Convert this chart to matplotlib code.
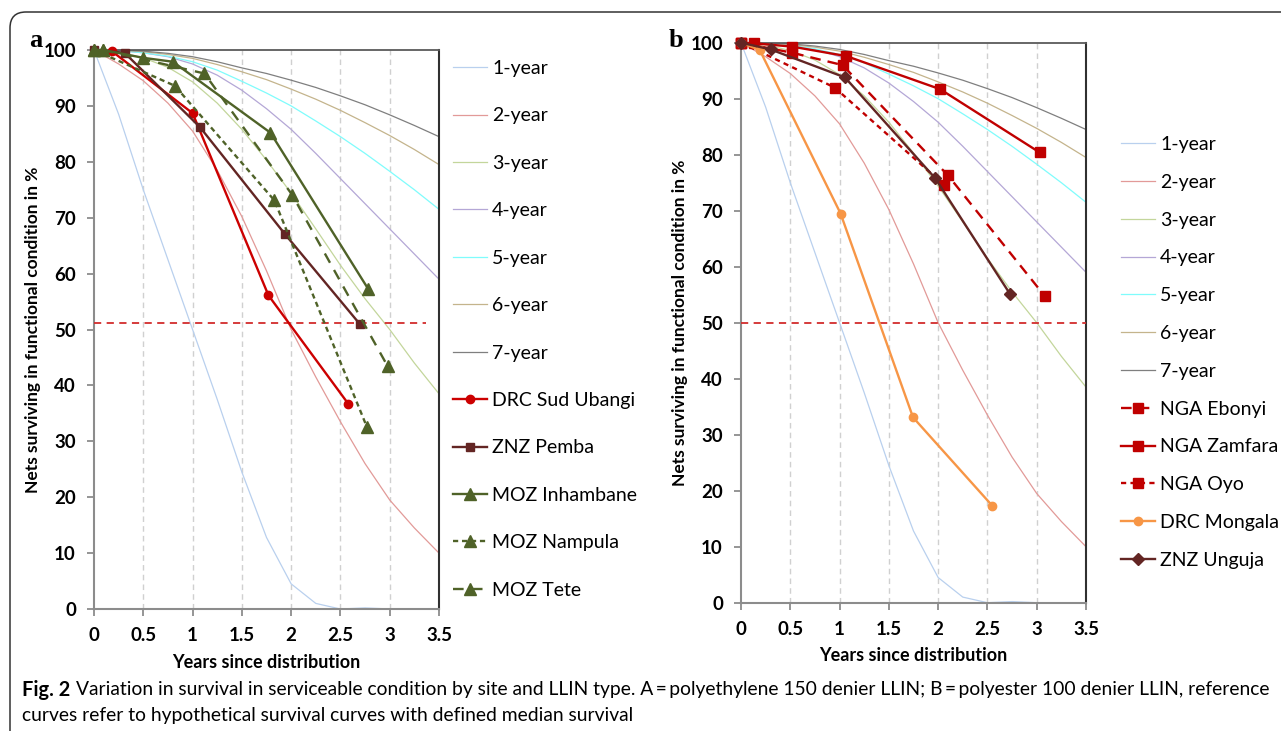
import matplotlib
matplotlib.use("Agg")
import matplotlib.pyplot as plt
from matplotlib.patches import FancyBboxPatch
import numpy as np

plt.rcParams['font.family'] = ['Lato', 'DejaVu Sans']

# reference curves (hypothetical survival with defined median), read every 0.25 yr
ref_t = [0, 0.25, 0.5, 0.75, 1.0, 1.25, 1.5, 1.75, 2.0, 2.25, 2.5, 2.75, 3.0, 3.25, 3.5]
ref_curves = {
    '1-year': [100, 88.5, 75, 62.5, 50, 37.5, 24.5, 12.8, 4.5, 1.0, 0, 0.2, 0, None, None],
    '2-year': [100, 97.5, 94.5, 90.5, 85.5, 78.5, 70.2, 60.5, 50, 41.5, 33.5, 26, 19.5, 14.5, 10],
    '3-year': [100, 99.6, 98.6, 96.9, 94.3, 90.5, 85.8, 80.3, 74.4, 68, 61.5, 55.5, 50, 44, 38.5],
    '4-year': [100, 99.9, 99.5, 98.8, 97.5, 95.5, 92.8, 89.5, 85.8, 81.5, 77, 72.5, 68, 63.5, 59],
    '5-year': [100, 99.9, 99.5, 98.9, 97.9, 96.4, 94.4, 92.3, 90, 87.3, 84.5, 81.5, 78.3, 75, 71.5],
    '6-year': [100, 100, 99.7, 99.2, 98.5, 97.4, 96.1, 94.7, 93, 91.2, 89.2, 87, 84.7, 82.2, 79.5],
    '7-year': [100, 100, 99.8, 99.4, 98.8, 97.9, 96.8, 95.8, 94.6, 93.3, 91.8, 90.2, 88.4, 86.5, 84.5],
}
ref_colors = {
    '1-year': '#b9d0ee', '2-year': '#e29a98', '3-year': '#c3d69b', '4-year': '#b4a7d6',
    '5-year': '#7ffcfc', '6-year': '#c4b48c', '7-year': '#7f7f7f',
}

# panel a: polyethylene 150 denier
a_names = ['DRC Sud Ubangi', 'ZNZ Pemba', 'MOZ Inhambane', 'MOZ Nampula', 'MOZ Tete']
a_t = [[0.18, 1.0, 1.77, 2.58],
       [0, 0.31, 1.075, 1.94, 2.70],
       [0, 0.09, 0.5, 0.8, 1.79, 2.78],
       [0, 0.82, 1.83, 2.77],
       [0.09, 1.12, 2.01, 2.98]]
a_v = [[99.8, 88.7, 56.1, 36.7],
       [100, 99.5, 86.2, 67.0, 50.9],
       [100, 100, 98.6, 97.9, 85.2, 57.3],
       [100, 93.6, 73.1, 32.5],
       [100, 95.8, 74.1, 43.4]]
a_median = 51.2

# panel b: polyester 100 denier
b_names = ['NGA Ebonyi', 'NGA Zamfara', 'NGA Oyo', 'DRC Mongala', 'ZNZ Unguja']
b_t = [[0, 0.52, 1.03, 2.10, 3.08],
       [0, 0.13, 0.52, 1.07, 2.02, 3.03],
       [0, 0.95, 2.06],
       [0, 0.19, 1.01, 1.745, 2.55],
       [0, 0.30, 1.055, 1.97, 2.73]]
b_v = [[100, 98.2, 96.0, 76.3, 54.8],
       [100, 99.9, 99.3, 97.6, 91.7, 80.4],
       [100, 92.0, 74.6],
       [100, 98.7, 69.5, 33.1, 17.3],
       [100, 98.8, 93.8, 75.8, 55.1]]
b_median = 50

x_ticks = [0, 0.5, 1, 1.5, 2, 2.5, 3, 3.5]
x_labels = ['0', '0.5', '1', '1.5', '2', '2.5', '3', '3.5']
y_ticks = list(range(0, 101, 10))

red = '#cc0000'
maroon = '#632523'
olive = '#4f6228'
orange = '#f79646'

a_styles = [dict(color=red, marker='o', ms=6, ls='-'),
            dict(color=maroon, marker='s', ms=6, ls='-'),
            dict(color=olive, marker='^', ms=8.5, ls='-'),
            dict(color=olive, marker='^', ms=8.5, ls=(0, (2.2, 1.6))),
            dict(color=olive, marker='^', ms=8.5, ls=(0, (4.5, 3.5)))]
b_styles = [dict(color='#c00000', marker='s', ms=7, ls=(0, (4.5, 3))),
            dict(color='#c00000', marker='s', ms=7, ls='-'),
            dict(color='#c00000', marker='s', ms=7, ls=(0, (2.2, 1.8))),
            dict(color=orange, marker='o', ms=6, ls='-'),
            dict(color=maroon, marker='D', ms=6, ls='-')]

fig = plt.figure(figsize=(12.81, 7.31), dpi=100)

# rounded frame around the figure
frame = FancyBboxPatch((10, -30), 1320, 731 - 12 + 30, boxstyle='round,pad=0,rounding_size=16',
                       transform=None, fill=False, edgecolor='#333333', linewidth=1.1)
fig.patches.append(frame)


def draw_panel(rect, names, ts, vs, styles, median, median_end, letter, letter_x,
               leg_anchor, leg_spacing):
    ax = fig.add_axes(rect)
    for name, ys in ref_curves.items():
        y = np.array([np.nan if v is None else v for v in ys], dtype=float)
        ax.plot(ref_t, y, color=ref_colors[name], lw=0.9, label=name, zorder=2)
    ax.plot([0, median_end], [median, median], color='#d22c2c', lw=1.3,
            ls=(0, (4, 3)), zorder=3)
    for name, t, v, st in zip(names, ts, vs, styles):
        ax.plot(t, v, color=st['color'], ls=st['ls'], lw=1.7, marker=st['marker'],
                ms=st['ms'], mec=st['color'], mfc=st['color'], label=name, zorder=4,
                clip_on=False)
    ax.set_xlim(0, 3.5)
    ax.set_ylim(0, 100)
    ax.set_xticks(x_ticks)
    ax.set_xticklabels(x_labels)
    ax.set_yticks(y_ticks)
    for xt in x_ticks[1:-1]:
        ax.axvline(xt, color='#d0d0d0', lw=1, ls=(0, (4, 3)), zorder=1)
    for s in ['left', 'bottom']:
        ax.spines[s].set_color('#8c8c8c')
        ax.spines[s].set_linewidth(1.5)
    ax.spines['top'].set_color('#5a5a5a')
    ax.spines['top'].set_linewidth(1.3)
    ax.spines['right'].set_color('#303030')
    ax.spines['right'].set_linewidth(1.5)
    ax.tick_params(direction='out', length=5, width=1.3, color='#8c8c8c',
                   labelsize=13.5, pad=8)
    for lab in ax.get_xticklabels() + ax.get_yticklabels():
        lab.set_fontweight('bold')
    ax.set_xlabel('Years since distribution', fontsize=13, fontweight='bold', labelpad=7)
    ax.set_ylabel('Nets surviving in functional condition in %', fontsize=12.5,
                  fontweight='bold', labelpad=1.5)
    fig.text(letter_x / 1281, 1 - 47 / 731, letter, fontsize=19, fontweight='bold',
             family=['Liberation Serif', 'DejaVu Serif'], ha='left', va='baseline')
    fig.legend(*ax.get_legend_handles_labels(), loc='upper left',
               bbox_to_anchor=leg_anchor, bbox_transform=fig.transFigure,
               frameon=False, fontsize=14, handlelength=1.75, handletextpad=0.26,
               labelspacing=leg_spacing, borderpad=0, borderaxespad=0)
    return ax


ax_a = draw_panel([94 / 1281, 1 - 609 / 731, 345 / 1281, 559 / 731],
                  a_names, a_t, a_v, a_styles, a_median, 3.37, 'a', 29,
                  (453 / 1281, 1 - 60 / 731), 1.565)
ax_b = draw_panel([741 / 1281, 1 - 602.7 / 731, 345 / 1281, 560 / 731],
                  b_names, b_t, b_v, b_styles, b_median, 3.5, 'b', 669,
                  (1121 / 1281, 1 - 136 / 731), 1.07)

# caption
cap_size = 13.9
t1 = fig.text(22 / 1281, 1 - 690 / 731, 'Fig. 2', fontsize=cap_size + 0.5, fontweight='bold',
              va='center', ha='left')
fig.canvas.draw()
bb = t1.get_window_extent()
fig.text((bb.x1 + 6) / 1281, 1 - 690 / 731,
         'Variation in survival in serviceable condition by site and LLIN type. A\u2009=\u2009polyethylene 150 denier LLIN; '
         'B\u2009=\u2009polyester 100 denier LLIN, reference',
         fontsize=cap_size, va='center', ha='left')
fig.text(22 / 1281, 1 - 715 / 731,
         'curves refer to hypothetical survival curves with defined median survival',
         fontsize=cap_size, va='center', ha='left')

fig.savefig('out.png', dpi=100)
